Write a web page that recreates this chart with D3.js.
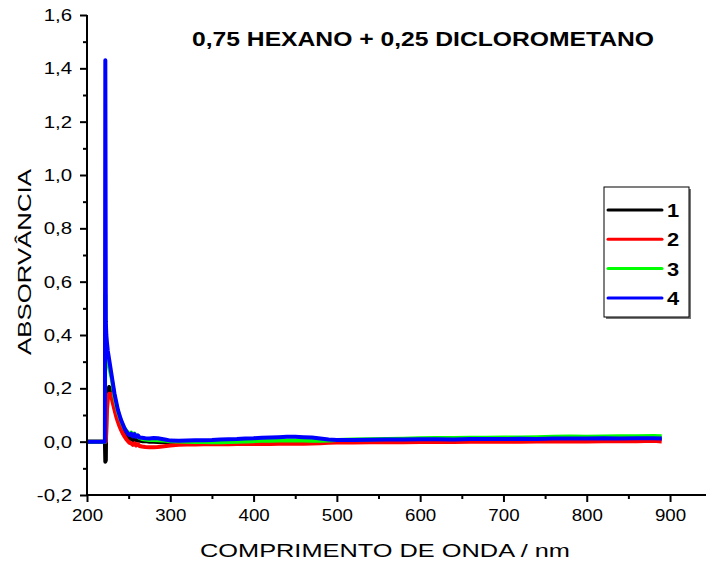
<!DOCTYPE html>
<html>
<head>
<meta charset="utf-8">
<script src="https://cdn.jsdelivr.net/npm/d3@7"></script>
<style>
  html, body { margin: 0; padding: 0; background: #fff; }
  svg { display: block; font-family: "Liberation Sans", Arial, Helvetica, sans-serif; }
</style>
</head>
<body>
<svg id="chart" width="706" height="566"></svg>
<script>
// Wavelength grid (nm)
const wavelength = [200, 221.5, 222, 222.6, 223.2, 224, 225, 226.5, 228, 229.5, 231, 233, 235, 237, 239, 241, 243, 245, 247, 249,
  251, 253, 255, 257, 259, 261, 263, 266, 270, 275, 280, 285, 290, 295, 300, 310, 320, 330, 340, 350,
  360, 370, 380, 390, 400, 410, 420, 430, 440, 450, 460, 470, 480, 490, 500, 520, 540, 560, 580, 600,
  620, 640, 660, 680, 700, 720, 740, 760, 780, 800, 820, 840, 860, 880, 890];

// Absorbance of each sample
const abs1 = [0, 0, -0.075, -0.07, 0.12, 0.17, 0.19, 0.205, 0.2, 0.18, 0.16, 0.13, 0.105, 0.085, 0.068, 0.052, 0.04, 0.03, 0.022, 0.015,
  0.01, 0.014, 0.006, 0.012, 0.004, 0.008, 0.003, 0.002, 0.002, 0.0, 0.0, -0.001, 0.0, -0.002, -0.002, -0.002, -0.003, -0.003, -0.003, -0.002,
  -0.002, -0.002, -0.001, -0.001, 0.0, 0.0, 0.001, 0.001, 0.001, 0.001, 0.001, 0.001, 0.001, 0.002, 0.003, 0.004, 0.005, 0.006, 0.006, 0.007,
  0.008, 0.008, 0.009, 0.009, 0.01, 0.01, 0.01, 0.011, 0.011, 0.011, 0.012, 0.012, 0.012, 0.013, 0.012];
const abs2 = [0, 0, 0, 0.0, 0.05, 0.12, 0.16, 0.18, 0.18, 0.165, 0.145, 0.12, 0.095, 0.075, 0.058, 0.043, 0.03, 0.02, 0.01, 0.002,
  -0.004, -0.006, -0.012, -0.006, -0.014, -0.009, -0.016, -0.018, -0.02, -0.021, -0.021, -0.02, -0.018, -0.016, -0.014, -0.012, -0.011, -0.011, -0.01, -0.01,
  -0.01, -0.01, -0.009, -0.009, -0.009, -0.009, -0.009, -0.008, -0.008, -0.008, -0.008, -0.007, -0.006, -0.004, -0.003, -0.003, -0.002, -0.002, -0.002, -0.001,
  -0.001, -0.001, 0.0, 0.0, 0.0, 0.0, 0.001, 0.001, 0.002, 0.001, 0.002, 0.002, 0.002, 0.003, 0.001];
const abs3 = [0, 0, 0.55, 0.33, 0.32, 0.31, 0.3, 0.28, 0.26, 0.24, 0.21, 0.17, 0.14, 0.115, 0.095, 0.078, 0.062, 0.05, 0.042, 0.034,
  0.03, 0.034, 0.024, 0.03, 0.02, 0.022, 0.014, 0.01, 0.008, 0.006, 0.006, 0.005, 0.004, 0.003, 0.002, 0.001, 0.0, -0.001, -0.001, -0.002,
  -0.002, -0.001, 0.0, 0.001, 0.002, 0.003, 0.003, 0.004, 0.004, 0.004, 0.004, 0.003, 0.003, 0.004, 0.006, 0.008, 0.009, 0.01, 0.011, 0.013,
  0.014, 0.014, 0.015, 0.015, 0.016, 0.016, 0.017, 0.018, 0.019, 0.018, 0.019, 0.02, 0.02, 0.021, 0.02];
const abs4 = [0, 0, 1.43, 0.45, 0.4, 0.37, 0.34, 0.31, 0.28, 0.25, 0.22, 0.18, 0.15, 0.12, 0.1, 0.08, 0.065, 0.05, 0.04, 0.03,
  0.025, 0.03, 0.02, 0.028, 0.018, 0.024, 0.016, 0.015, 0.013, 0.012, 0.014, 0.013, 0.01, 0.007, 0.004, 0.003, 0.004, 0.005, 0.005, 0.006,
  0.008, 0.009, 0.01, 0.012, 0.013, 0.015, 0.016, 0.017, 0.018, 0.018, 0.017, 0.016, 0.012, 0.008, 0.006, 0.006, 0.007, 0.008, 0.008, 0.009,
  0.009, 0.008, 0.01, 0.01, 0.01, 0.011, 0.01, 0.012, 0.012, 0.012, 0.013, 0.012, 0.013, 0.013, 0.012];

const seriesNames = ["1", "2", "3", "4"];
const seriesColors = ["#000000", "#ff0000", "#00ff00", "#0000ff"];
const seriesValues = [abs1, abs2, abs3, abs4];

const xTicks = [200, 300, 400, 500, 600, 700, 800, 900];
const yTicks = [-0.2, 0.0, 0.2, 0.4, 0.6, 0.8, 1.0, 1.2, 1.4, 1.6];

const titleText = "0,75 HEXANO + 0,25 DICLOROMETANO";
const xTitle = "COMPRIMENTO DE ONDA / nm";
const yTitle = "ABSORVÂNCIA";

const svg = d3.select("#chart");

const x = d3.scaleLinear().domain([200, 950]).range([87, 87 + 750 * 0.8329]);
const y = d3.scaleLinear().domain([-0.2, 1.6]).range([495, 15]);

const fmt = v => d3.format(".1f")(v).replace(".", ",").replace("−", "-");

// Widen glyphs of a text element by a factor, keeping its anchor
function widen(sel, factor) {
  sel.each(function () {
    const len = this.getComputedTextLength();
    d3.select(this).attr("textLength", len * factor).attr("lengthAdjust", "spacingAndGlyphs");
  });
}

// Minor ticks
const xMinor = d3.range(250, 951, 100);
const yMinor = d3.range(-0.1, 1.6, 0.2);

// Curves
const line = d3.line().x(d => x(d[0])).y(d => y(d[1]));
const plot = svg.append("g");
seriesValues.forEach((vals, i) => {
  plot.append("path")
    .datum(wavelength.map((w, j) => [w, vals[j]]))
    .attr("fill", "none")
    .attr("stroke", seriesColors[i])
    .attr("stroke-width", 4)
    .attr("stroke-linejoin", "round")
    .attr("d", line);
});

// X axis
const gx = svg.append("g").attr("transform", `translate(0,${y(-0.2)})`);
gx.call(d3.axisBottom(x).tickValues(xTicks).tickSize(7).tickPadding(7).tickFormat(d3.format("d")));
gx.append("g").call(d3.axisBottom(x).tickValues(xMinor).tickSize(4).tickFormat(""));
gx.selectAll(".domain").attr("stroke-width", 2).attr("d", `M${x(200)},0H${x(950)}`);
gx.selectAll(".tick line").attr("stroke-width", 2);
gx.selectAll(".tick text").attr("font-size", 17).attr("fill", "#000")
  .attr("font-family", "'Liberation Sans', Arial, sans-serif").call(widen, 1.1);

// Y axis
const gy = svg.append("g").attr("transform", `translate(${x(200)},0)`);
gy.call(d3.axisLeft(y).tickValues(yTicks).tickSize(7).tickPadding(8).tickFormat(fmt));
gy.append("g").call(d3.axisLeft(y).tickValues(yMinor).tickSize(4).tickFormat(""));
gy.selectAll(".domain").attr("stroke-width", 2).attr("d", `M0,${y(-0.2)}V${y(1.6)}`);
gy.selectAll(".tick line").attr("stroke-width", 2);
gy.selectAll(".tick text").attr("font-size", 17).attr("fill", "#000")
  .attr("font-family", "'Liberation Sans', Arial, sans-serif").call(widen, 1.2);

// Titles
svg.append("text").attr("x", 423).attr("y", 46).attr("text-anchor", "middle")
  .attr("font-size", 20).attr("font-weight", "bold").text(titleText)
  .attr("textLength", 462).attr("lengthAdjust", "spacingAndGlyphs");
svg.append("text").attr("x", 385).attr("y", 557).attr("text-anchor", "middle")
  .attr("font-size", 19).text(xTitle)
  .attr("textLength", 370).attr("lengthAdjust", "spacingAndGlyphs");
svg.append("text").attr("transform", "translate(31,262) rotate(-90)").attr("text-anchor", "middle")
  .attr("font-size", 19).text(yTitle)
  .attr("textLength", 186).attr("lengthAdjust", "spacingAndGlyphs");

// Legend
const lg = svg.append("g");
lg.append("rect").attr("x", 606).attr("y", 189).attr("width", 85).attr("height", 130).attr("fill", "#777");
lg.append("rect").attr("x", 604).attr("y", 187).attr("width", 85).attr("height", 130)
  .attr("fill", "#fff").attr("stroke", "#000").attr("stroke-width", 1);
seriesNames.forEach((name, i) => {
  const yy = 210 + i * 29.3;
  lg.append("line").attr("x1", 608).attr("x2", 662).attr("y1", yy).attr("y2", yy)
    .attr("stroke", seriesColors[i]).attr("stroke-width", 3).attr("stroke-linecap", "round");
  lg.append("text").attr("x", 667).attr("y", yy + 7).attr("font-size", 19)
    .attr("font-weight", "bold").text(name).call(widen, 1.15);
});
</script>
</body>
</html>
